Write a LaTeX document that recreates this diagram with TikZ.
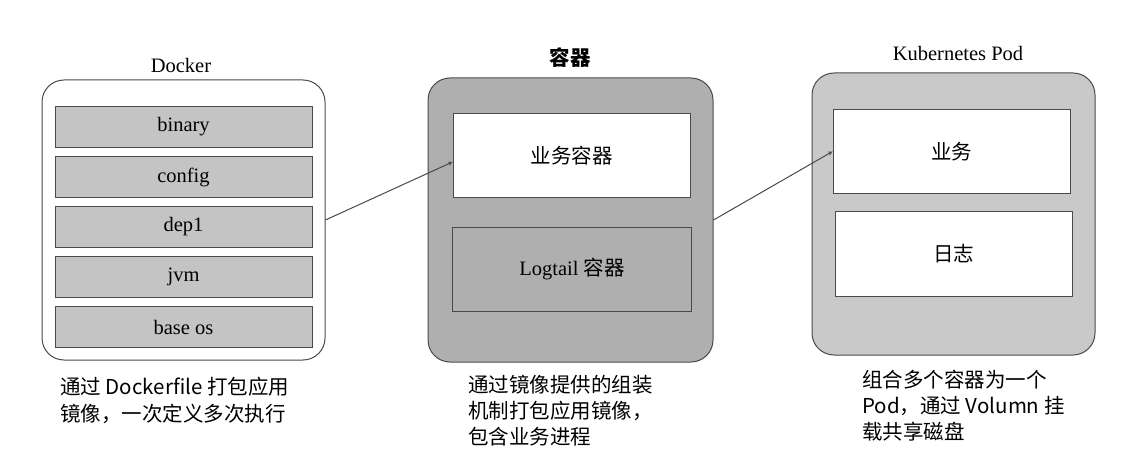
\documentclass[tikz,border=0pt]{standalone}
\usepackage{fontspec}
\setmainfont{Liberation Serif}
\newfontfamily\cjk{Noto Sans CJK SC}
\usetikzlibrary{positioning}
\definecolor{linegray}{HTML}{4A4A4A}
\definecolor{layergray}{HTML}{C4C4C4}
\definecolor{boxgray}{HTML}{AFAFAF}
\definecolor{podgray}{HTML}{C9C9C9}

\begin{document}
\begin{tikzpicture}[x=1pt, y=-1pt, >=stealth, font=\fontsize{20.5}{24}\selectfont,
    outerbox/.style={draw=linegray, line width=1pt, rounded corners=22pt},
    layer/.style={draw=linegray, line width=1pt, fill=layergray, minimum width=257pt, minimum height=41pt},
    inner/.style={draw=linegray, line width=1pt, minimum width=237pt, minimum height=84pt},
    caption/.style={anchor=north west, align=left, inner sep=0pt, font=\cjk\fontsize{20.5}{27}\selectfont}]

    \useasboundingbox (0,0) rectangle (1126,462);

    % Docker image
    \node[outerbox, minimum width=283pt, minimum height=280pt] (docker) at (183.5,220) {};
    \node (dockertitle) at (181,65) {Docker};
    \node[layer] (binary) at (183.5,127) {binary};
    \node[layer, below=8pt of binary] (config) {config};
    \node[layer, below=8pt of config] (dep) {dep1};
    \node[layer, below=8pt of dep] (jvm) {jvm};
    \node[layer, below=8pt of jvm] (baseos) {base os};

    % Container
    \node[outerbox, fill=boxgray, minimum width=285pt, minimum height=284pt] (container) at (570.5,220) {};
    \node (containertitle) at (570,58) {\cjk\bfseries 容器};
    \node[inner, fill=white] (biz) at (571.5,156) {\cjk 业务容器};
    \node[inner, fill=boxgray, minimum width=239pt] (logtail) at (572,269.5) {Logtail {\cjk 容器}};

    % Kubernetes Pod
    \node[outerbox, fill=podgray, minimum width=283pt, minimum height=282pt] (pod) at (953.5,214) {};
    \node (podtitle) at (958,53) {Kubernetes Pod};
    \node[inner, fill=white] (podbiz) at (951.5,151.5) {\cjk 业务};
    \node[inner, fill=white] (podlog) at (953.5,254) {\cjk 日志};

    % Transitions
    \draw[->, draw=linegray, line width=1pt] (docker.east) -- ([yshift=-6pt]biz.west);
    \draw[->, draw=linegray, line width=1pt] (container.east) -- (podbiz.west);

    % Captions
    \node[caption] (dockertext) at (60,377) {通过 Dockerfile 打包应用\\镜像，一次定义多次执行};
    \node[caption, font=\cjk\fontsize{20.5}{26}\selectfont] (containertext) at (468,375) {通过镜像提供的组装\\机制打包应用镜像，\\包含业务进程};
    \node[caption, font=\cjk\fontsize{20.5}{26}\selectfont] (podtext) at (862,370) {组合多个容器为一个\\Pod，通过 Volumn 挂\\载共享磁盘};

\end{tikzpicture}
\end{document}
